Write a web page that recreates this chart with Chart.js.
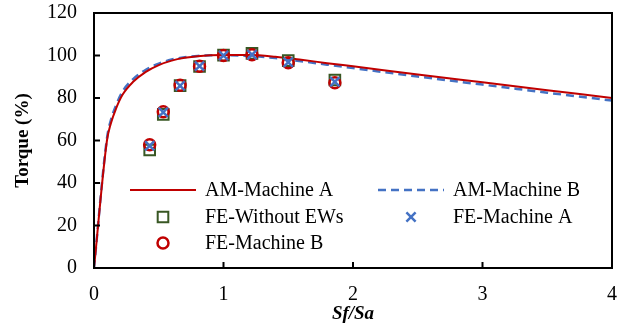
<!DOCTYPE html>
<html>
<head>
<meta charset="utf-8">
<script src="https://cdn.jsdelivr.net/npm/chart.js@4"></script>
<style>
  body { margin: 0; background: #fff; }
  #wrap { width: 635px; height: 326px; }
</style>
</head>
<body>
<div id="wrap"><canvas id="torque"></canvas></div>
<script>
// analytical model curves
var amX = [0, 0.1, 0.13, 0.17, 0.22, 0.3, 0.4, 0.5, 0.6, 0.7, 0.8, 1.0, 1.2, 1.4, 1.6, 1.8, 2.0, 2.5, 3.0, 3.5, 4.0];
var amMachineA = [0, 60, 68, 75, 81.5, 87.5, 92.3, 95.5, 97.6, 98.9, 99.7, 100.2, 100.2, 99.4, 98, 96.4, 94.9, 91.1, 87.4, 83.7, 80];
var amMachineB = [0, 61, 69.5, 76.5, 83, 88.8, 93.3, 96.2, 98.1, 99.2, 99.8, 100.1, 99.8, 98.8, 97.3, 95.7, 94.1, 90.1, 86.3, 82.5, 78.8];

// finite element points
var feX = [0.43, 0.535, 0.665, 0.815, 1.0, 1.22, 1.5, 1.86];
var feWithoutEWs = [55.5, 72.3, 85.8, 94.8, 100.2, 101, 97.6, 88.5];
var feMachineA = [57.5, 73.3, 85.8, 95, 100, 100.4, 96.8, 87.6];
var feMachineB = [58, 73.5, 86, 95, 100, 100.4, 96.6, 87.2];

var xTicks = [0, 1, 2, 3, 4];
var yTicks = [0, 20, 40, 60, 80, 100, 120];

function pts(xs, ys) {
    return xs.map(function (x, i) { return { x: x, y: ys[i] }; });
}

var serif = "'Liberation Serif', 'Times New Roman', serif";

var frame = {
    id: 'frame',
    afterDraw: function (chart) {
        var c = chart.ctx;
        var a = chart.chartArea;
        var xs = chart.scales.x, ys = chart.scales.y;
        c.save();
        c.strokeStyle = '#000';
        c.lineWidth = 2;
        c.strokeRect(a.left, a.top, a.right - a.left, a.bottom - a.top);
        // inside ticks
        xTicks.forEach(function (t) {
            var p = xs.getPixelForValue(t);
            c.beginPath(); c.moveTo(p, a.bottom); c.lineTo(p, a.bottom - 6); c.stroke();
        });
        yTicks.forEach(function (t) {
            var p = ys.getPixelForValue(t);
            c.beginPath(); c.moveTo(a.left, p); c.lineTo(a.left + 6, p); c.stroke();
        });

        // legend, two columns
        var ds = chart.data.datasets;
        var slots = [
            [0, 36, 177], [1, 284, 177],
            [2, 36, 204], [3, 284, 204],
            [4, 36, 230]
        ];
        c.font = '20px ' + serif;
        c.textBaseline = 'middle';
        slots.forEach(function (s) {
            var d = ds[s[0]];
            var lx = a.left + s[1], ly = a.top + s[2];
            if (d.showLine) {
                c.beginPath();
                c.strokeStyle = d.borderColor;
                c.lineWidth = d.borderWidth;
                c.setLineDash(d.borderDash || []);
                c.moveTo(lx, ly); c.lineTo(lx + 66, ly); c.stroke();
                c.setLineDash([]);
            } else {
                c.fillStyle = 'rgba(0,0,0,0)';
                c.strokeStyle = d.pointBorderColor;
                c.lineWidth = d.pointBorderWidth;
                Chart.helpers.drawPoint(c, {
                    pointStyle: d.pointStyle,
                    radius: d.pointRadius,
                    borderWidth: d.pointBorderWidth,
                    rotation: 0
                }, lx + 33, ly);
            }
            c.fillStyle = '#000';
            c.fillText(d.label, lx + 75, ly + 1);
        });
        c.restore();
    }
};

var ctx = document.getElementById('torque');
var myChart = new Chart(ctx, {
    type: 'scatter',
    data: {
        datasets: [
            {
                label: 'AM-Machine A',
                data: pts(amX, amMachineA),
                showLine: true,
                borderColor: '#C00000',
                borderWidth: 2,
                pointRadius: 0,
                cubicInterpolationMode: 'monotone',
                order: 4
            },
            {
                label: 'AM-Machine B',
                data: pts(amX, amMachineB),
                showLine: true,
                borderColor: '#4472C4',
                borderWidth: 2.5,
                borderDash: [8, 5],
                pointRadius: 0,
                cubicInterpolationMode: 'monotone',
                order: 5
            },
            {
                label: 'FE-Without EWs',
                data: pts(feX, feWithoutEWs),
                pointStyle: 'rect',
                pointRadius: 7.5,
                pointBorderWidth: 2,
                pointBorderColor: '#385723',
                pointBackgroundColor: 'rgba(0,0,0,0)',
                order: 3
            },
            {
                label: 'FE-Machine A',
                data: pts(feX, feMachineA),
                pointStyle: 'crossRot',
                pointRadius: 6.5,
                pointBorderWidth: 2.5,
                pointBorderColor: '#4472C4',
                pointBackgroundColor: 'rgba(0,0,0,0)',
                order: 1
            },
            {
                label: 'FE-Machine B',
                data: pts(feX, feMachineB),
                pointStyle: 'circle',
                pointRadius: 5.5,
                pointBorderWidth: 2.5,
                pointBorderColor: '#C00000',
                pointBackgroundColor: 'rgba(0,0,0,0)',
                order: 2
            }
        ]
    },
    options: {
        responsive: true,
        maintainAspectRatio: false,
        animation: false,
        layout: { padding: { top: 13, right: 23, left: 0, bottom: 0 } },
        plugins: {
            legend: { display: false },
            tooltip: { enabled: false }
        },
        scales: {
            x: {
                type: 'linear',
                min: 0, max: 4,
                afterBuildTicks: function (s) { s.ticks = xTicks.map(function (v) { return { value: v }; }); },
                afterFit: function (s) { s.height = 58; s.paddingLeft = 0; s.paddingRight = 0; },
                grid: { display: false, drawTicks: false },
                border: { color: '#000', width: 2 },
                ticks: { color: '#000', padding: 15, font: { family: serif, size: 20 } },
                title: {
                    display: true, text: 'Sf/Sa', color: '#000', padding: { top: 0, bottom: 1 },
                    font: { family: serif, size: 19, weight: 'bold', style: 'italic' }
                }
            },
            y: {
                min: 0, max: 120,
                afterBuildTicks: function (s) { s.ticks = yTicks.map(function (v) { return { value: v }; }); },
                afterFit: function (s) { s.width = 94; s.paddingTop = 0; s.paddingBottom = 0; },
                grid: { display: false, drawTicks: false },
                border: { color: '#000', width: 2 },
                ticks: { color: '#000', padding: 17, font: { family: serif, size: 20 } },
                title: {
                    display: true, text: 'Torque (%)', color: '#000', padding: { top: 12, bottom: 4 },
                    font: { family: serif, size: 19, weight: 'bold' }
                }
            }
        }
    },
    plugins: [frame]
});
</script>
</body>
</html>
